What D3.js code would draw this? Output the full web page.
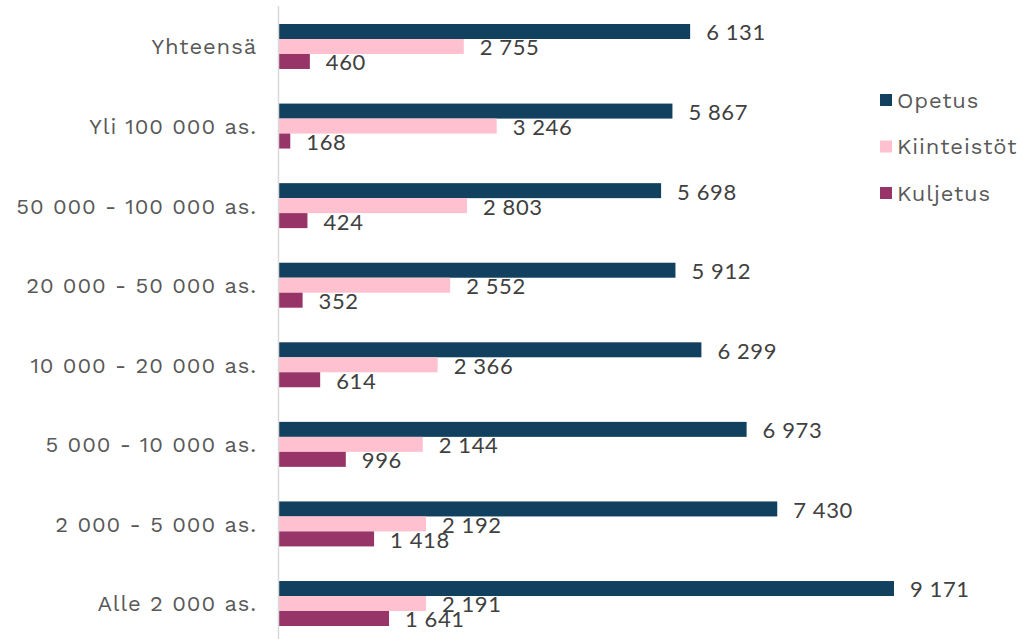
<!DOCTYPE html>
<html>
<head>
<meta charset="utf-8">
<script src="https://cdn.jsdelivr.net/npm/d3@7"></script>
<style>
  body { margin: 0; background: #fff; }
  svg text { font-family: "Work Sans", "Open Sans", sans-serif; fill: #595959; letter-spacing: 0.9px; }
  svg text.value { font-family: Lato, "Liberation Sans", sans-serif; fill: #404040; letter-spacing: 0.6px; }
</style>
</head>
<body>
<div id="chart"></div>
<script>
// Data
var categories = [
    'Yhteensä',
    'Yli 100 000 as.',
    '50 000 - 100 000 as.',
    '20 000 - 50 000 as.',
    '10 000 - 20 000 as.',
    '5 000 - 10 000 as.',
    '2 000 - 5 000 as.',
    'Alle 2 000 as.'
];
var seriesNames = [ 'Opetus', 'Kiinteistöt', 'Kuljetus' ];
var opetus      = [ 6131, 5867, 5698, 5912, 6299, 6973, 7430, 9171 ];
var kiinteistot = [ 2755, 3246, 2803, 2552, 2366, 2144, 2192, 2191 ];
var kuljetus    = [ 460, 168, 424, 352, 614, 996, 1418, 1641 ];
var colors      = [ '#12405f', '#ffc0cf', '#973468' ];

var W = 1022, H = 639;
var series = [ opetus, kiinteistot, kuljetus ];

var svg = d3.select( '#chart' )
    .append( 'svg' )
    .attr( 'width', W )
    .attr( 'height', H );

var x = d3.scaleLinear().domain( [ 0, 9171 ] ).range( [ 279, 894 ] );

var y0 = d3.scaleBand()
    .domain( categories )
    .range( [ 6.7, 643.3 ] )
    .paddingInner( 0.435 )
    .paddingOuter( 0.2175 );

var y1 = d3.scaleBand()
    .domain( seriesNames )
    .range( [ 0, y0.bandwidth() ] );

var fmt = function( v ){
    return d3.format( ',' )( v ).replace( /,/g, ' ' );
};

// bars
series.forEach( function( vals, s ){
    svg.append( 'g' )
        .selectAll( 'rect' )
        .data( vals )
        .join( 'rect' )
        .attr( 'x', x( 0 ) )
        .attr( 'y', ( d, i ) => y0( categories[ i ] ) + y1( seriesNames[ s ] ) )
        .attr( 'width', d => x( d ) - x( 0 ) )
        .attr( 'height', y1.bandwidth() )
        .attr( 'fill', colors[ s ] );
} );

// axis line
svg.append( 'line' )
    .attr( 'x1', 278.5 ).attr( 'x2', 278.5 )
    .attr( 'y1', 6 ).attr( 'y2', H )
    .attr( 'stroke', '#d9d9d9' )
    .attr( 'stroke-width', 1.5 );

// value labels
series.forEach( function( vals, s ){
    svg.append( 'g' )
        .selectAll( 'text' )
        .data( vals )
        .join( 'text' )
        .attr( 'class', 'value' )
        .attr( 'x', d => x( d ) + 16 )
        .attr( 'y', ( d, i ) => y0( categories[ i ] ) + y1( seriesNames[ s ] ) + y1.bandwidth() / 2 + 1 )
        .attr( 'dy', '0.36em' )
        .style( 'font-size', '22px' )
        .text( fmt );
} );

// category labels
svg.append( 'g' )
    .selectAll( 'text' )
    .data( categories )
    .join( 'text' )
    .attr( 'x', 257 )
    .attr( 'y', d => y0( d ) + y0.bandwidth() / 2 )
    .attr( 'dy', '0.36em' )
    .attr( 'text-anchor', 'end' )
    .style( 'font-size', '22px' )
    .text( d => d );

// legend
var legend = svg.append( 'g' )
    .selectAll( 'g' )
    .data( seriesNames )
    .join( 'g' )
    .attr( 'transform', ( d, i ) => 'translate(880,' + ( 100 + i * 46.5 ) + ')' );

legend.append( 'rect' )
    .attr( 'x', 0 ).attr( 'y', -6 )
    .attr( 'width', 12 ).attr( 'height', 12 )
    .attr( 'fill', ( d, i ) => colors[ i ] );

legend.append( 'text' )
    .attr( 'x', 17 )
    .attr( 'dy', '0.36em' )
    .style( 'font-size', '22px' )
    .text( d => d );
</script>
</body>
</html>
